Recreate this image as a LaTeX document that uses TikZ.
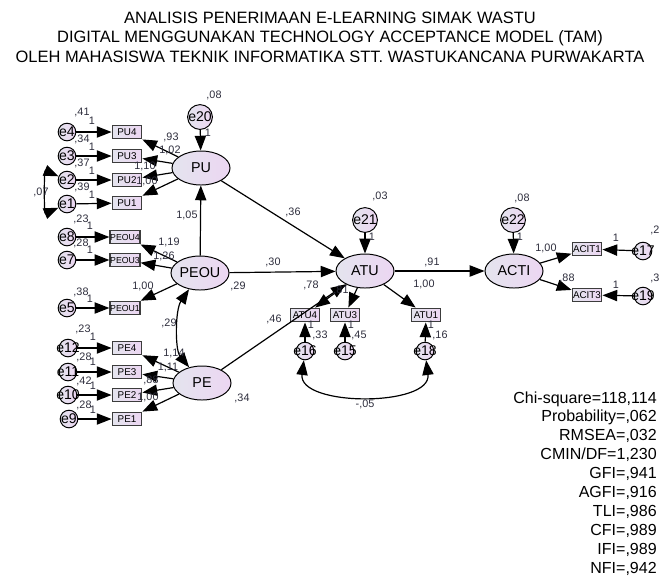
\documentclass[tikz,border=0pt]{standalone}
\usepackage{fontspec}
\setmainfont{Liberation Sans}
\usetikzlibrary{shapes.geometric,arrows.meta}
\definecolor{lavL}{RGB}{228,228,238}
\definecolor{lavR}{RGB}{236,214,242}
\definecolor{boxline}{RGB}{60,60,60}
\definecolor{numcol}{RGB}{45,45,60}

\begin{document}
\begin{tikzpicture}[x=0.025cm,y=-0.025cm,
  lat/.style={ellipse,draw,line width=0.7pt,minimum width=1.45cm,minimum height=0.85cm,inner sep=0pt,left color=lavL,right color=lavR,font=\fontsize{10.2}{12}\selectfont},
  obs/.style={rectangle,draw=boxline,line width=1.2pt,minimum width=0.73cm,minimum height=0.33cm,inner sep=0pt,left color=lavL,right color=lavR,font=\fontsize{7}{8}\selectfont},
  pobs/.style={obs,font=\fontsize{6.2}{7}\selectfont},
  errc/.style={circle,draw,line width=0.7pt,minimum size=0.44cm,inner sep=0pt,left color=lavL,right color=lavR,label={[font=\fontsize{10}{12}\selectfont,inner sep=0pt]center:#1}},
  errb/.style={errc=#1,minimum size=0.62cm},
  num/.style={font=\fontsize{7.7}{9}\selectfont,text=numcol,inner sep=0pt},
  arr/.style={line width=0.85pt,-{Triangle[length=10.5pt,width=8pt]}},
  cov/.style={line width=0.85pt,{Triangle[length=10.5pt,width=8pt]}-{Triangle[length=10.5pt,width=8pt]}},
  stat/.style={font=\fontsize{11.4}{13}\selectfont,anchor=base east,inner sep=0pt},
  ttl/.style={font=\fontsize{11.7}{14}\selectfont,anchor=base,inner sep=0pt}]
\useasboundingbox (0,0) rectangle (660,575);

% title
\node[ttl] (t1) at (330,23) {ANALISIS PENERIMAAN E-LEARNING SIMAK WASTU};
\node[ttl] (t2) at (330,42) {DIGITAL MENGGUNAKAN TECHNOLOGY ACCEPTANCE MODEL (TAM)};
\node[ttl] (t3) at (330,62) {OLEH MAHASISWA TEKNIK INFORMATIKA STT. WASTUKANCANA PURWAKARTA};

% latent variables
\node[lat] (PU) at (201,168) {PU};
\node[lat] (PEOU) at (200,273) {PEOU};
\node[lat] (PE) at (202,383) {PE};
\node[lat] (ATU) at (365,271) {ATU};
\node[lat] (ACTI) at (514,271) {ACTI};

% indicators
\node[obs] (PU4) at (127,132) {PU4};
\node[obs] (PU3) at (127,156) {PU3};
\node[obs] (PU2) at (127,180) {PU2};
\node[obs] (PU1) at (127,203) {PU1};
\node[pobs] (PEOU4) at (125,237) {PEOU4};
\node[pobs] (PEOU3) at (125,260) {PEOU3};
\node[pobs] (PEOU1) at (125,308) {PEOU1};
\node[obs] (PE4) at (127,348) {PE4};
\node[obs] (PE3) at (127,372) {PE3};
\node[obs] (PE2) at (127,395) {PE2};
\node[obs] (PE1) at (127,419) {PE1};
\node[obs] (ATU4) at (305,315) {ATU4};
\node[obs] (ATU3) at (345,315) {ATU3};
\node[obs] (ATU1) at (426,315) {ATU1};
\node[obs] (ACIT1) at (587,249) {ACIT1};
\node[obs] (ACIT3) at (587,295) {ACIT3};

% error terms
\node[errc=e4] (e4) at (67,132) {};
\node[errc=e3] (e3) at (67,156) {};
\node[errc=e2] (e2) at (67,180) {};
\node[errc=e1] (e1) at (67,204) {};
\node[errc=e8] (e8) at (67,237) {};
\node[errc=e7] (e7) at (67,260) {};
\node[errc=e5] (e5) at (67,308) {};
\node[errc=e12] (e12) at (68,348) {};
\node[errc=e11] (e11) at (68,372) {};
\node[errc=e10] (e10) at (68,395) {};
\node[errc=e9] (e9) at (69,419) {};
\node[errb=e20] (e20) at (200,117) {};
\node[errb=e21] (e21) at (365,220) {};
\node[errb=e22] (e22) at (513,220) {};
\node[errc=e16] (e16) at (305,351) {};
\node[errc=e15] (e15) at (345,351) {};
\node[errc=e18] (e18) at (425,351) {};
\node[errc=e17] (e17) at (643,251) {};
\node[errc=e19] (e19) at (643,296) {};

% paths
\draw[arr] (e4) -- (PU4);
\draw[arr] (e3) -- (PU3);
\draw[arr] (e2) -- (PU2);
\draw[arr] (e1) -- (PU1);
\draw[arr] (PU) -- (PU4);
\draw[arr] (PU) -- (PU3);
\draw[arr] (PU) -- (PU2);
\draw[arr] (PU) -- (PU1);
\draw[arr] (e8) -- (PEOU4);
\draw[arr] (e7) -- (PEOU3);
\draw[arr] (e5) -- (PEOU1);
\draw[arr] (PEOU) -- (PEOU4);
\draw[arr] (PEOU) -- (PEOU3);
\draw[arr] (PEOU) -- (PEOU1);
\draw[arr] (e12) -- (PE4);
\draw[arr] (e11) -- (PE3);
\draw[arr] (e10) -- (PE2);
\draw[arr] (e9) -- (PE1);
\draw[arr] (PE) -- (PE4);
\draw[arr] (PE) -- (PE3);
\draw[arr] (PE) -- (PE2);
\draw[arr] (PE) -- (PE1);
\draw[arr] (e20) -- (PU);
\draw[arr] (PEOU) -- (PU);
\draw[arr] (PU) -- (ATU);
\draw[arr] (PEOU) -- (ATU);
\draw[arr] (PE) -- (ATU);
\draw[arr] (e21) -- (ATU);
\draw[arr] (ATU) -- (ATU4);
\draw[arr] (ATU) -- (ATU3);
\draw[arr] (ATU) -- (ATU1);
\draw[arr] (e16) -- (ATU4);
\draw[arr] (e15) -- (ATU3);
\draw[arr] (e18) -- (ATU1);
\draw[arr] (ATU) -- (ACTI);
\draw[arr] (e22) -- (ACTI);
\draw[arr] (ACTI) -- (ACIT1);
\draw[arr] (ACTI) -- (ACIT3);
\draw[arr] (e17) -- (ACIT1);
\draw[arr] (e19) -- (ACIT3);

% covariances
\draw[cov] (e2) .. controls (44,170) and (44,214) .. (e1);
\draw[cov] (PEOU) .. controls (175,310) and (175,350) .. (PE);
\draw[cov] (e16) .. controls (298,407) and (432,407) .. (e18);

% estimates
\node[num] (vE4) at (82,112) {,41};
\node[num] (wE4) at (92,121) {1};
\node[num] (vE3) at (82,139) {,34};
\node[num] (wE3) at (92,147) {1};
\node[num] (vE2) at (82,163) {,37};
\node[num] (wE2) at (92,171) {1};
\node[num] (vE1) at (82,187) {,39};
\node[num] (wE1) at (92,195) {1};
\node[num] (cE2E1) at (41,192) {,07};
\node[num] (lPU4) at (171,137) {,93};
\node[num] (lPU3) at (170,150) {1,02};
\node[num] (lPU2) at (145,166) {1,10};
\node[num] (lPU1) at (147,181) {1,00};
\node[num] (vE20) at (214,95) {,08};
\node[num] (wE20) at (208,133) {1};
\node[num] (bPU) at (187,215) {1,05};
\node[num] (bPUATU) at (293,212) {,36};

\node[num] (vE8) at (81,219) {,23};
\node[num] (wE8) at (90,226) {1};
\node[num] (vE7) at (81,243) {,28};
\node[num] (wE7) at (90,250) {1};
\node[num] (vE5) at (81,292) {,38};
\node[num] (wE5) at (90,299) {1};
\node[num] (lPEOU4) at (169,242) {1,19};
\node[num] (lPEOU3) at (164,256) {1,26};
\node[num] (lPEOU1) at (143,286) {1,00};
\node[num] (bPEOUATU) at (273,262) {,30};
\node[num] (vPEOU) at (238,286) {,29};
\node[num] (cPEOUPE) at (169,323) {,29};

\node[num] (vE12) at (83,329) {,23};
\node[num] (wE12) at (93,337) {1};
\node[num] (vE11) at (84,357) {,28};
\node[num] (wE11) at (93,362) {1};
\node[num] (vE10) at (84,381) {,42};
\node[num] (wE10) at (93,386) {1};
\node[num] (vE9) at (84,405) {,28};
\node[num] (wE9) at (93,410) {1};
\node[num] (lPE4) at (174,353) {1,14};
\node[num] (lPE3) at (168,367) {1,11};
\node[num] (lPE2) at (151,380) {,88};
\node[num] (lPE1) at (148,397) {1,00};
\node[num] (vPE) at (242,398) {,34};
\node[num] (bPEATU) at (274,319) {,46};

\node[num] (vE21) at (380,196) {,03};
\node[num] (wE21) at (372,237) {1};
\node[num] (lATU4) at (311,285) {,78};
\node[num] (lATU3) at (341,290) {,81};
\node[num] (lATU1) at (424,284) {1,00};
\node[num] (bATUACTI) at (432,262) {,91};
\node[num] (wE16) at (311,325) {1};
\node[num] (wE15) at (351,325) {1};
\node[num] (wE18) at (431,325) {1};
\node[num] (vE16) at (320,335) {,33};
\node[num] (vE15) at (359,335) {,45};
\node[num] (vE18) at (440,335) {,16};
\node[num] (cE16E18) at (365,404) {-,05};

\node[num] (vE22) at (522,198) {,08};
\node[num] (wE22) at (520,237) {1};
\node[num] (lACIT1) at (546,248) {1,00};
\node[num] (lACIT3) at (567,278) {,88};
\node[num] (wE17) at (616,238) {1};
\node[num] (vE17) at (655,230) {,2};
\node[num] (wE19) at (616,285) {1};
\node[num] (vE19) at (655,278) {,3};

% fit indices
\foreach \s [count=\i] in {{Chi-square=118,114},{Probability=,062},{RMSEA=,032},{CMIN/DF=1,230},{GFI=,941},{AGFI=,916},{TLI=,986},{CFI=,989},{IFI=,989},{NFI=,942}}
  \node[stat] (fit\i) at (657,{403+18.9*(\i-1)}) {\s};
\end{tikzpicture}
\end{document}
